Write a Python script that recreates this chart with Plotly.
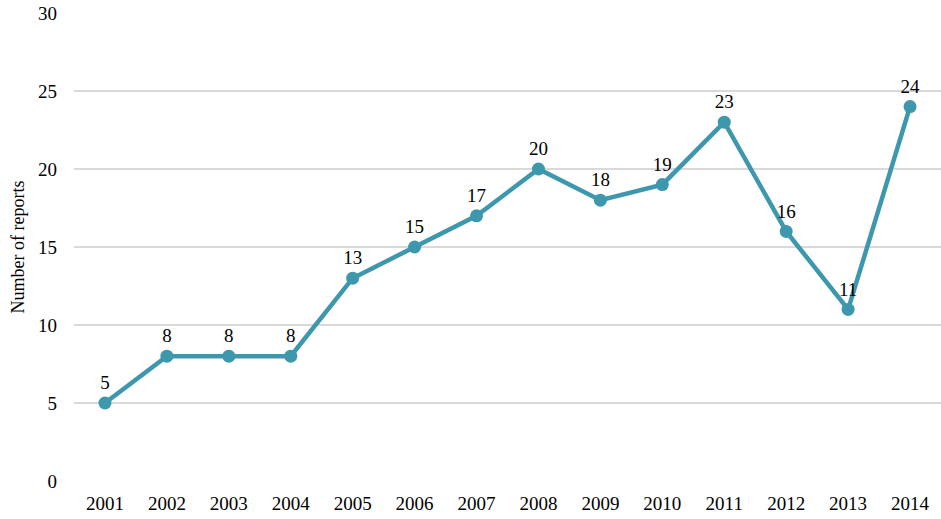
import plotly.graph_objects as go

years = ["2001", "2002", "2003", "2004", "2005", "2006", "2007",
         "2008", "2009", "2010", "2011", "2012", "2013", "2014"]
reports = [5, 8, 8, 8, 13, 15, 17, 20, 18, 19, 23, 16, 11, 24]

color = "#3E98AD"
font = "Liberation Serif"

fig = go.Figure(go.Scatter(
    x=years, y=reports, mode="lines+markers+text",
    line=dict(color=color, width=4.5),
    marker=dict(color=color, size=13),
    text=[str(v) for v in reports], textposition="top center",
    textfont=dict(family=font, size=19, color="#000000"),
    cliponaxis=False,
))
fig.update_layout(
    width=941, height=519,
    margin=dict(l=74, r=0, t=13, b=38, autoexpand=False),
    plot_bgcolor="white", paper_bgcolor="white",
    showlegend=False,
    font=dict(family=font, size=19, color="#000000"),
    xaxis=dict(type="category", range=[-0.5, len(years) - 0.5],
               showgrid=False, zeroline=False, automargin=False,
               showline=False, ticks="", tickfont=dict(family=font, size=19),
               ticklabelstandoff=9),
    yaxis=dict(range=[0, 30], dtick=5, showgrid=True, gridcolor="#D9D9D9",
               gridwidth=1.5, zeroline=False, showline=False, ticks="",
               automargin=False,
               tickfont=dict(family=font, size=19), ticklabelstandoff=16,
               title=dict(text="Number of reports", font=dict(family=font, size=18), standoff=8)),
)
fig.write_html("out.html", config={"displayModeBar": False},
               post_script="document.body.style.margin='0';document.body.style.overflow='hidden';")
